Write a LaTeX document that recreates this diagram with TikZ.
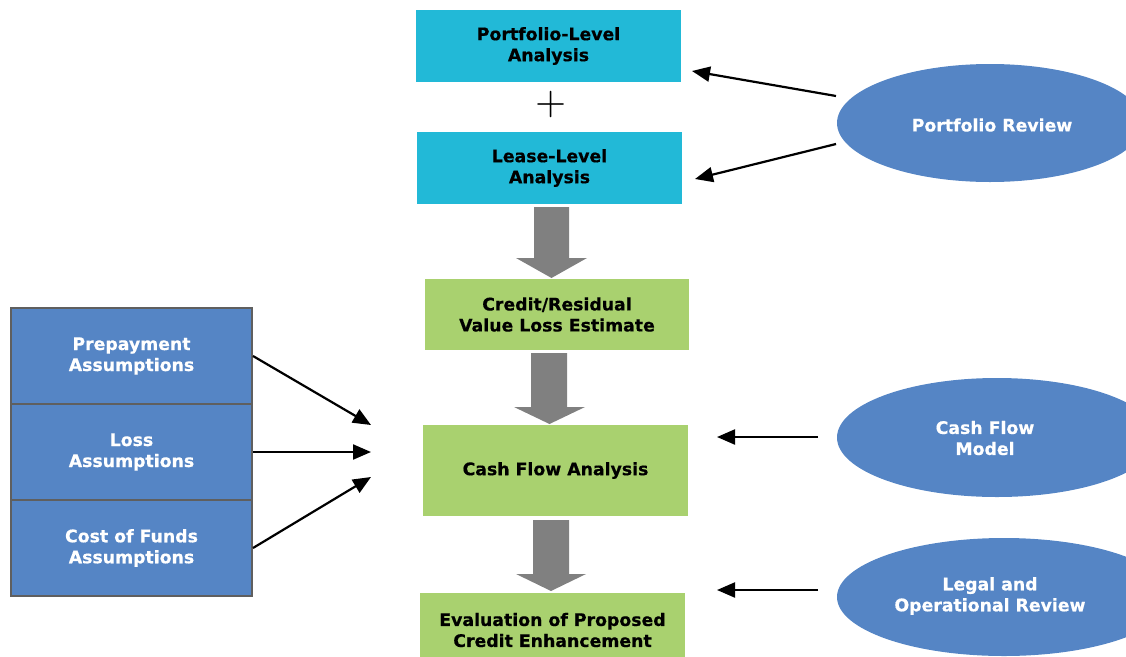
\documentclass[tikz,border=0pt]{standalone}
\usepackage{fontspec}
\setmainfont{DejaVu Sans}[BoldFeatures={FakeBold=0.5}]
\newfontfamily\plusfont{lmroman10-regular.otf}
\usetikzlibrary{arrows.meta,shapes.geometric}
\definecolor{cyanc}{HTML}{22B9D7}
\definecolor{greenc}{HTML}{A9D16F}
\definecolor{bluec}{HTML}{5585C5}
\definecolor{grayc}{HTML}{808080}
\definecolor{borderc}{HTML}{5F5F5F}
\tikzset{
  lbl/.style={align=center, font=\bfseries\fontsize{17.3}{21}\selectfont, inner sep=0pt},
  cyanbox/.style={lbl, fill=cyanc, minimum width=265pt, minimum height=72pt},
  greenbox/.style={lbl, fill=greenc, minimum width=265pt, minimum height=72pt},
  cell/.style={lbl, text=white, fill=bluec, draw=borderc, line width=2pt, minimum width=241pt, minimum height=96pt},
  review/.style={ellipse, fill=bluec, inner sep=0pt, minimum height=118pt},
  reviewtext/.style={lbl, text=white},
  conn/.style={line width=2.2pt, -{Triangle[length=18pt,width=15pt]}},
  blockarrow/.style={fill=grayc}
}
\begin{document}
\begin{tikzpicture}[x=1pt,y=-1pt]
\useasboundingbox (0,0) rectangle (1126,656);
\clip (0,0) rectangle (1126,656);
% central column
\node[cyanbox] (pla) at (548.5,46) {Portfolio-Level\\Analysis};
\node[inner sep=0pt] (plus) at (551,104) {\plusfont\fontsize{40}{40}\selectfont +};
\node[cyanbox] (lla) at (549.5,168) {Lease-Level\\ Analysis};
\node[greenbox, minimum width=264pt, minimum height=71pt] (crv) at (557,314.5) {Credit/Residual\\Value Loss Estimate};
\node[greenbox, minimum height=91pt] (cfa) at (555.5,470.5) {\raisebox{3pt}{Cash Flow Analysis}};
\node[greenbox, minimum height=74pt] (eval) at (552.5,630) {Evaluation of Proposed\\ Credit Enhancement};
% gray block arrows
\fill[blockarrow] (534,207) -- (569,207) -- (569,258) -- (587,258) -- (551.5,278) -- (516,258) -- (534,258) -- cycle;
\fill[blockarrow] (531,353) -- (567,353) -- (567,407) -- (585,407) -- (549.5,424) -- (514,407) -- (531,407) -- cycle;
\fill[blockarrow] (533,520) -- (569,520) -- (569,574) -- (586,574) -- (551,591) -- (516,574) -- (533,574) -- cycle;
% left stack
\node[cell] (pre) at (131.5,356) {Prepayment\\Assumptions};
\node[cell] (loss) at (131.5,452) {Loss\\Assumptions};
\node[cell] (cof) at (131.5,548) {Cost of Funds\\Assumptions};
\coordinate (t1) at (371,425);
\coordinate (t2) at (371,452);
\coordinate (t3) at (371,477);
\draw[conn] (pre.east) -- (t1);
\draw[conn] (loss.east) -- (t2);
\draw[conn] (cof.east) -- (t3);
% right ellipses
\node[review, minimum width=306pt] (pr) at (990,123) {};
\node[reviewtext] (prt) at (992,125) {Portfolio Review};
\node[review, minimum width=320pt, minimum height=119pt] (cfm) at (997,437.5) {};
\node[reviewtext] (cfmt) at (985,438) {Cash Flow\\Model};
\node[review, minimum width=334pt] (lor) at (1004,597) {};
\node[reviewtext] (lort) at (990,596) {Legal and\\Operational Review};
\coordinate (s1) at (836,96);
\coordinate (e1) at (692,71);
\coordinate (s2) at (836,144);
\coordinate (e2) at (695,179);
\coordinate (s3) at (818,437);
\coordinate (e3) at (717,437);
\coordinate (s4) at (818,590);
\coordinate (e4) at (717,590);
\draw[conn] (s1) -- (e1);
\draw[conn] (s2) -- (e2);
\draw[conn] (s3) -- (e3);
\draw[conn] (s4) -- (e4);
\end{tikzpicture}
\end{document}
